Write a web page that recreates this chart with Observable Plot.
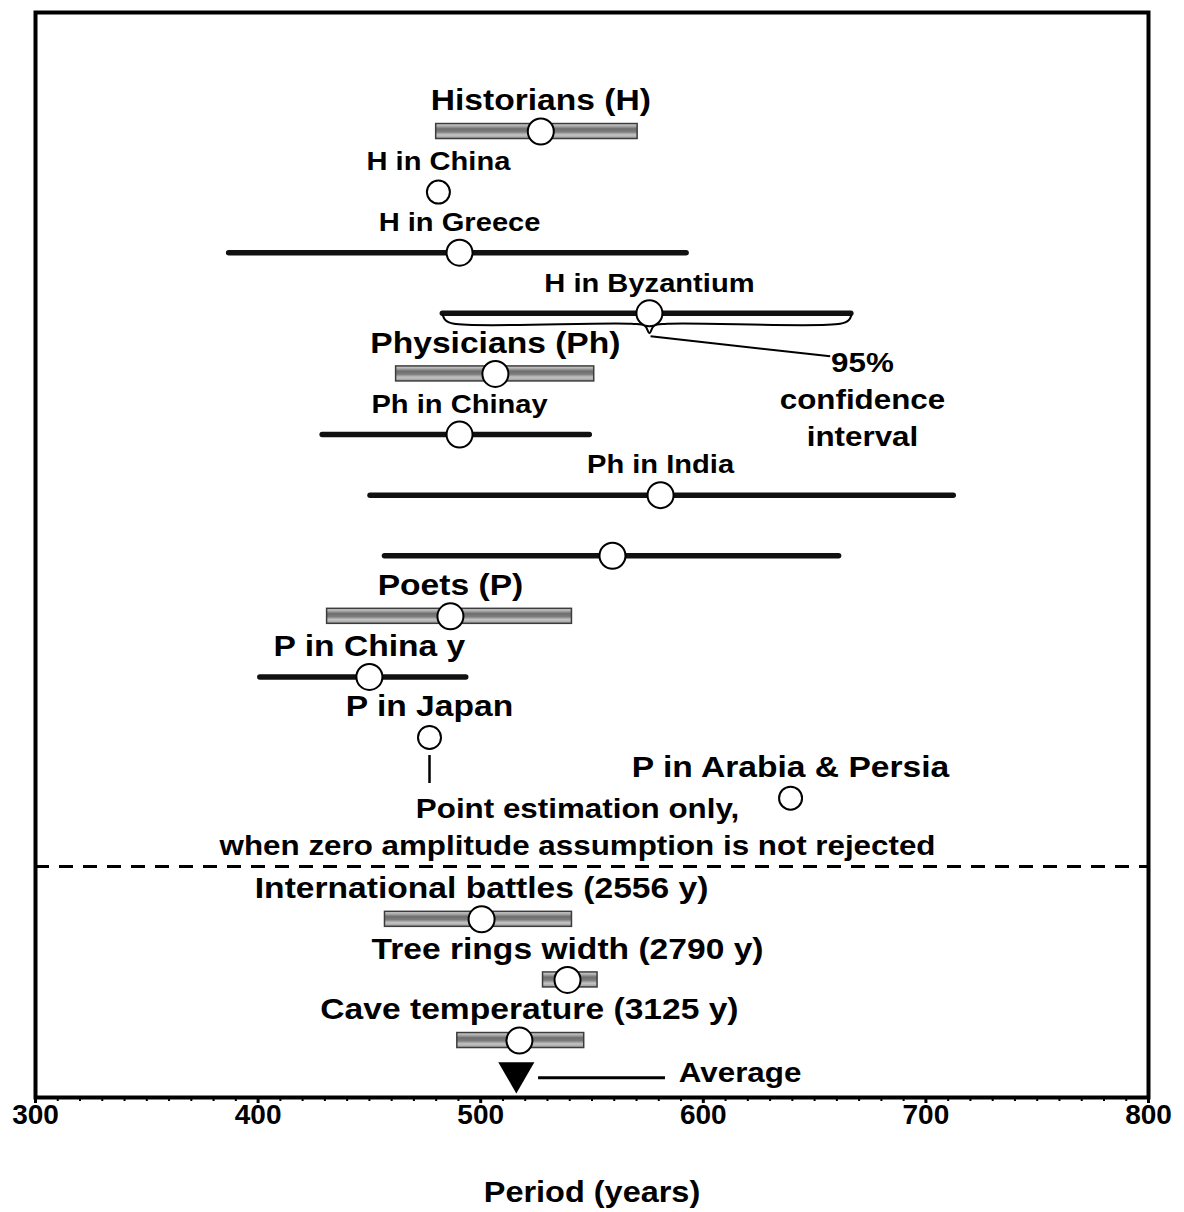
<!DOCTYPE html>
<html>
<head>
<meta charset="utf-8">
<script src="https://cdn.jsdelivr.net/npm/d3@7"></script>
<script src="https://cdn.jsdelivr.net/npm/@observablehq/plot@0.6"></script>
<style>
  html, body { margin: 0; padding: 0; background: #fff; }
  #chart svg { display: block; }
</style>
</head>
<body>
<div id="chart"></div>
<script>
// Estimated cycle periods (years) with their 95% confidence intervals.
const names = [
  "Historians (H)", "H in China", "H in Greece", "H in Byzantium",
  "Physicians (Ph)", "Ph in Chinay", "Ph in India", "",
  "Poets (P)", "P in China y", "P in Japan", "P in Arabia & Persia",
  "International battles (2556 y)", "Tree rings width (2790 y)", "Cave temperature (3125 y)"
];
// Row order down the chart (row 12 is left empty for the separator).
const rows    = [0, 1, 2, 3, 4, 5, 6, 7, 8, 9, 10, 11, 13, 14, 15];
const periods = [527, 481, 490.5, 575.8, 506.6, 490.5, 580.8, 559.2, 486.4, 450, 477, 639.2, 500.4, 539, 517.4];
const lower   = [480, null, 387, 483, 462, 429, 450.5, 457, 431, 401, null, null, 457, 528, 489.5];
const upper   = [570.5, null, 592.5, 666.5, 551, 549, 712.5, 661, 541, 493.5, null, null, 541, 552.5, 546.5];
// "pooled" = combined estimate, "single" = one series, "point" = point estimate only
const kinds   = ["pooled", "point", "single", "single", "pooled", "single", "single", "single",
                 "pooled", "single", "point", "point", "pooled", "pooled", "pooled"];
const average = 516;
const majorTicks = [300, 400, 500, 600, 700, 800];

const data = names.map((name, i) => ({
  name, row: rows[i], period: periods[i], lo: lower[i], hi: upper[i], kind: kinds[i]
}));

// Layout constants
const W = 1184, H = 1212;
const M = {top: 12, right: 36, bottom: 115, left: 35};
const Y_DOMAIN = [-1.964, 15.94];
const ROW_PX = (H - M.top - M.bottom) / (Y_DOMAIN[1] - Y_DOMAIN[0]);
const px = (v) => v / ROW_PX;           // pixel offset expressed in row units
const SEP_ROW = 12.13;
const AVG_ROW = 15.53;
const BIG = 30, SMALL = 26, NOTE = 28;
const TEXT_WIDEN = 1.12;                // wide lettering for the labels
const smallLabels = new Set(["H in China", "H in Greece", "H in Byzantium", "Ph in Chinay", "Ph in India"]);
const labelShift = {"Cave temperature (3125 y)": 10};   // horizontal nudge (px)

const pooled = data.filter(d => d.kind === "pooled");
const single = data.filter(d => d.kind === "single");
const withCI = data.filter(d => d.kind !== "point");
const pointOnly = data.filter(d => d.kind === "point");
const labeled = data.filter(d => d.name);

// Brace under the Byzantium interval
const byz = data.find(d => d.name === "H in Byzantium");
const brace = [
  [byz.lo, 2], [byz.lo + 1.2, 7], [byz.lo + 5, 10.5], [byz.period - 8, 10.5], [byz.period - 2, 12.5],
  [byz.period, 20],
  [byz.period + 2, 12.5], [byz.period + 8, 10.5], [byz.hi - 5, 10.5], [byz.hi - 1.2, 7], [byz.hi, 2]
].map(([x, o]) => ({x, y: byz.row + px(o)}));

const japan = data.find(d => d.name === "P in Japan");

const notes = [
  {text: "95%\nconfidence\ninterval", x: 671.5, y: 4.39},
  {text: "Point estimation only,", x: 543.5, y: 11.14},
  {text: "when zero amplitude assumption is not rejected", x: 543.5, y: 11.75}
];

const chart = Plot.plot({
  width: W, height: H,
  marginTop: M.top, marginRight: M.right, marginBottom: M.bottom, marginLeft: M.left,
  style: {fontFamily: "'Liberation Sans', Arial, Helvetica, sans-serif", fontWeight: "bold", color: "#000", background: "#fff"},
  x: {domain: [300, 800], label: null},
  y: {domain: Y_DOMAIN, reverse: true, axis: null},
  marks: [
    // separator between the cultural series and the natural series
    Plot.ruleY([SEP_ROW], {stroke: "#000", strokeWidth: 3, strokeDasharray: "14,10"}),
    // pooled estimates: shaded tubes
    Plot.rect(pooled, {x1: "lo", x2: "hi", y1: d => d.row - px(7.5), y2: d => d.row + px(7.5),
      fill: "url(#tube)", stroke: "#3c3c3c", strokeWidth: 1.5}),
    // individual series: heavy black interval lines
    Plot.ruleY(single, {x1: "lo", x2: "hi", y: "row", stroke: "#111", strokeWidth: 5.5, strokeLinecap: "round"}),
    // brace and leader for the confidence-interval note
    Plot.line(brace, {x: "x", y: "y", stroke: "#000", strokeWidth: 2, curve: "catmull-rom"}),
    Plot.link([{x1: byz.period + 0.5, y1: byz.row + px(23), x2: 657, y2: 3.71}],
      {x1: "x1", y1: "y1", x2: "x2", y2: "y2", stroke: "#000", strokeWidth: 2}),
    // tick under P in Japan
    Plot.ruleX([japan], {x: "period", y1: d => d.row + px(18), y2: d => d.row + px(46), stroke: "#000", strokeWidth: 2.5}),
    // period estimates
    Plot.dot(withCI, {x: "period", y: "row", r: 13, fill: "#fff", stroke: "#000", strokeWidth: 2}),
    Plot.dot(pointOnly, {x: "period", y: "row", r: 11.5, fill: "#fff", stroke: "#000", strokeWidth: 2}),
    // series labels
    Plot.text(labeled.filter(d => !smallLabels.has(d.name) && !labelShift[d.name]), {x: "period", y: "row", text: "name", dy: -31, fontSize: BIG, fontWeight: "bold", fill: "#000"}),
    ...labeled.filter(d => labelShift[d.name]).map(d =>
      Plot.text([d], {x: "period", y: "row", text: "name", dx: labelShift[d.name], dy: -31, fontSize: BIG, fontWeight: "bold", fill: "#000"})),
    Plot.text(labeled.filter(d => smallLabels.has(d.name)), {x: "period", y: "row", text: "name", dy: -30, fontSize: SMALL, fontWeight: "bold", fill: "#000"}),
    // annotations
    Plot.text(notes, {x: "x", y: "y", text: "text", fontSize: NOTE, lineHeight: 1.32, fontWeight: "bold", fill: "#000"}),
    // average marker and its key
    Plot.dot([average], {x: d => d, y: AVG_ROW, symbol: "triangle", rotate: 180, r: 13.4, fill: "#000", stroke: "none"}),
    Plot.ruleY([AVG_ROW + px(5)], {x1: average + 10, x2: average + 67, stroke: "#000", strokeWidth: 3}),
    Plot.text(["Average"], {x: average + 73, y: AVG_ROW, text: d => d, textAnchor: "start", fontSize: NOTE, fontWeight: "bold", fill: "#000"}),
    // frame and x axis
    Plot.frame({stroke: "#000", strokeWidth: 4}),
    Plot.axisX({ticks: d3.range(300, 801, 10), tickSize: 4, tickFormat: () => "", strokeWidth: 2, label: null}),
    Plot.axisX({ticks: majorTicks, tickSize: 6, tickPadding: 1, fontSize: 28, fontWeight: "bold", strokeWidth: 3, label: null}),
    Plot.text(["Period (years)"], {frameAnchor: "bottom", dy: 104, fontSize: 29, fontWeight: "bold", fill: "#000"})
  ]
});

// widen label lettering about each label's anchor point
d3.select(chart).selectAll('g[aria-label="text"] text').attr("transform", function() {
  const t = this.getAttribute("transform");
  return (t ? t + " " : "") + `scale(${TEXT_WIDEN},1)`;
});

// vertical shading for the pooled-estimate tubes
const defs = d3.select(chart).insert("defs", ":first-child");
const grad = defs.append("linearGradient").attr("id", "tube")
  .attr("x1", 0).attr("y1", 0).attr("x2", 0).attr("y2", 1);
[[0, "#d8d8d8"], [0.18, "#a8a8a8"], [0.35, "#6e6e6e"], [0.55, "#7c7c7c"], [0.75, "#c4c4c4"], [1, "#9a9a9a"]]
  .forEach(([o, c]) => grad.append("stop").attr("offset", o).attr("stop-color", c));

document.getElementById("chart").append(chart);
</script>
</body>
</html>
